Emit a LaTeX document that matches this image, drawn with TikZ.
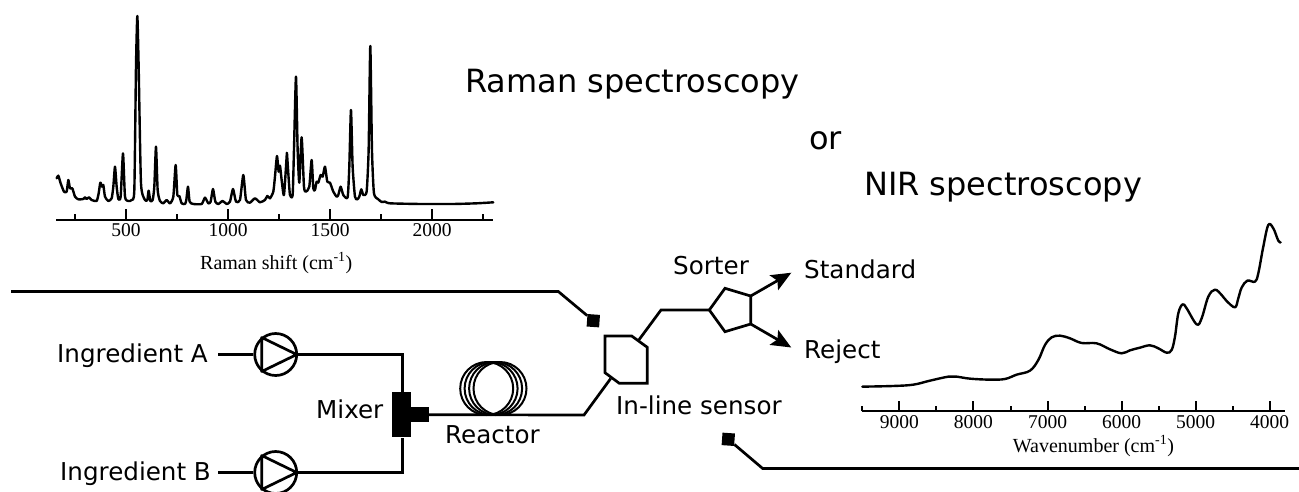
\documentclass[tikz,border=0pt]{standalone}
\usepackage{fontspec}
\setmainfont{DejaVu Sans}
\newfontfamily\serifax{Liberation Serif}
\usetikzlibrary{arrows.meta}
\tikzset{
  lab/.style={anchor=base west,inner sep=0pt,font=\fontsize{24.6}{28}\selectfont},
  title/.style={anchor=base west,inner sep=0pt,font=\fontsize{32}{36}\selectfont},
  axnum/.style={anchor=base,inner sep=0pt,font=\serifax\fontsize{19.5}{22}\selectfont},
  axlab/.style={anchor=base west,inner sep=0pt,font=\serifax\fontsize{20}{24}\selectfont},
  pipe/.style={line width=2.7pt,line join=miter},
  spec/.style={line width=2.4pt,line join=round,line cap=round},
  axisline/.style={line width=2pt},
  tickm/.style={line width=1.7pt},
  pumpc/.style={circle,draw,line width=2.7pt,minimum size=42pt,inner sep=0pt},
  probe/.style={rectangle,fill=black,minimum size=12.5pt,inner sep=0pt,rotate=-4},
  coil/.style={circle,draw,line width=2pt,minimum size=53pt,inner sep=0pt},
  blk/.style={rectangle,fill=black,inner sep=0pt},
  arr/.style={line width=2.7pt,-{Stealth[length=20pt,width=17pt,inset=4pt]}},
}
\begin{document}
\begin{tikzpicture}[x=1pt,y=-1pt]
\useasboundingbox (0,0) rectangle (1299,491);
\clip (0,0) rectangle (1299,491);
% Raman spectrum
\begin{scope}[shift={(40,0)},x=0.3333pt,y=-0.3333pt]
\draw[spec] plot[smooth,tension=0.35] coordinates {
(50,535)(55,527)(62,550)(72,575)(80,575)(85,540)(90,565)(97,565)(105,590)(115,598)(130,597)(135,592)(140,597)(147,592)(155,600)(170,603)(176,580)(181,548)(186,560)(190,555)(195,590)(205,603)(215,595)(220,560)(225,500)(230,560)(235,597)(242,590)(249,460)(255,590)(265,603)(275,600)(283,570)(288,200)(292,48)(296,200)(303,550)(315,600)(322,600)(326,572)(331,603)(338,600)(343,560)(348,440)(353,570)(360,603)(370,610)(380,600)(390,610)(400,590)(407,495)(412,585)(418,588)(425,610)(435,612)(439,600)(444,560)(449,605)(460,612)(485,612)(495,593)(505,610)(512,605)(519,567)(526,605)(535,612)(548,603)(560,612)(570,605)(579,567)(588,605)(600,600)(610,525)(618,600)(630,608)(645,595)(660,607)(675,600)(682,588)(690,595)(700,575)(705,530)(711,468)(716,515)(720,497)(725,540)(732,585)(740,470)(741,460)(745,520)(750,585)(758,585)(762,450)(768,230)(773,450)(778,548)(785,412)(792,560)(798,575)(808,560)(815,480)(820,565)(825,570)(830,545)(835,548)(842,525)(848,530)(855,500)(862,545)(870,548)(880,575)(890,590)(895,585)(902,560)(910,585)(923,592)(928,500)(933,330)(938,500)(945,590)(952,598)(958,590)(964,568)(970,585)(980,575)(986,450)(991,138)(996,450)(1002,580)(1015,598)(1025,606)(1035,605)(1050,610)(1140,612)(1240,612)(1310,610)(1360,607)};
\end{scope}
\coordinate (ramL) at (56,219.5);
\coordinate (ramR) at (493,219.5);
\draw[axisline] (ramL) -- (ramR);
\foreach \x/\t in {126/500,228/1000,330/1500,432/2000}{
  \draw[tickm] (\x,219.5) -- (\x,208.5);
  \node[axnum] (ram\t) at (\x,236.7) {\t};
}
\foreach \x in {75,177,279,381,483}{
  \draw[tickm] (\x,219.5) -- (\x,213.5);
}
\node[axlab] (ramlabel) at (200,269.5) {Raman shift (cm\textsuperscript{-1})};
% Titles
\node[title] (tRaman) at (465,92) {Raman spectroscopy};
\node[title] (tOr) at (809,149) {or};
\node[title] (tNir) at (864,195) {NIR spectroscopy};
% NIR spectrum
\begin{scope}[shift={(850,210)},x=0.3333pt,y=-0.3333pt]
\draw[spec] plot[smooth,tension=0.6] coordinates {
(37,530)(130,528)(190,524)(240,512)(295,500)(320,500)(360,506)(420,509)(465,507)(500,494)(540,482)(565,450)(585,405)(605,382)(630,377)(660,385)(695,399)(740,400)(780,418)(815,430)(840,421)(870,413)(900,406)(925,415)(950,428)(965,420)(975,380)(985,310)(998,283)(1010,295)(1040,343)(1055,325)(1075,260)(1095,239)(1115,255)(1130,273)(1155,292)(1165,265)(1175,233)(1192,212)(1215,215)(1225,190)(1240,110)(1255,45)(1270,55)(1285,92)(1292,97)};
\end{scope}
\coordinate (nirL) at (862,411.3);
\coordinate (nirR) at (1285,411.3);
\draw[axisline] (nirL) -- (nirR);
\foreach \x/\t in {899.3/9000,973.3/8000,1047.7/7000,1121.7/6000,1195.7/5000,1269.7/4000}{
  \draw[tickm] (\x,411.3) -- (\x,401);
  \node[axnum] (nir\t) at (\x,428.3) {\t};
}
\foreach \x in {862.3,936.3,1010.7,1084.7,1158.7,1233}{
  \draw[tickm] (\x,411.3) -- (\x,405.7);
}
\node[axlab] (nirlabel) at (1012.7,452) {Wavenumber (cm\textsuperscript{-1})};
% Labels
\node[lab] (lA) at (57,362) {Ingredient A};
\node[lab] (lB) at (60,480) {Ingredient B};
\node[lab] (lMixer) at (316,418) {Mixer};
\node[lab] (lReactor) at (445,443) {Reactor};
\node[lab] (lSorter) at (673,274) {Sorter};
\node[lab] (lStd) at (804,278.5) {Standard};
\node[lab] (lRej) at (804,358) {Reject};
\node[lab] (lSensor) at (616,414) {In-line sensor};
% Pumps
\node[pumpc] (pA) at (275.7,354.5) {};
\node[pumpc] (pB) at (275.7,472.5) {};
\foreach \p in {pA,pB}{
  \draw[pipe,line join=round] ([shift={(-14,-17)}]\p.center) -- ([shift={(21,0)}]\p.center) -- ([shift={(-14,17)}]\p.center) -- cycle;
}
\coordinate (inA) at (218.3,354.5);
\coordinate (inB) at (218.3,472.5);
\draw[pipe] (inA) -- (pA.west);
\draw[pipe] (inB) -- (pB.west);
% Mixer
\node[blk,minimum width=18.7pt,minimum height=45.6pt] (mix) at (401.4,414.5) {};
\node[blk,minimum width=19pt,minimum height=15.3pt] (mixout) at (419.5,414.7) {};
\coordinate (mA) at (402.7,354.5);
\coordinate (mB) at (402.7,472.5);
\draw[pipe] (pA.east) -- (mA) -- (mix.north -| mA);
\draw[pipe] (pB.east) -- (mB) -- (mix.south -| mB);
% Reactor coil
\foreach \n/\x in {c1/486.7,c2/491.1,c3/495.6,c4/500}{
  \node[coil] (\n) at (\x,388.5) {};
}
% Sensor
\coordinate (s1) at (605,336);
\coordinate (s2) at (631.7,336);
\coordinate (s3) at (647.3,347.3);
\coordinate (s4) at (647.3,383.3);
\coordinate (s5) at (619.3,383.3);
\coordinate (s6) at (605,372.7);
\draw[pipe] (s1) -- (s2) -- (s3) -- (s4) -- (s5) -- (s6) -- cycle;
\coordinate (sIn) at (610.7,378.5);
\coordinate (sOut) at (638.3,340.7);
\coordinate (bendIn) at (584,415);
\coordinate (bendOut) at (661,310);
\draw[pipe] (mixout.east) -- (bendIn) -- (sIn);
% Sorter
\coordinate (t1) at (709.3,310);
\coordinate (t2) at (725,288.3);
\coordinate (t3) at (750.7,296);
\coordinate (t4) at (750.7,324);
\coordinate (t5) at (725,331.7);
\draw[pipe] (t1) -- (t2) -- (t3) -- (t4) -- (t5) -- cycle;
\draw[pipe] (sOut) -- (bendOut) -- (t1);
\coordinate (endStd) at (791.3,272.7);
\coordinate (endRej) at (791.3,347.5);
\draw[arr] (t3) -- (endStd);
\draw[arr] (t4) -- (endRej);
% Probes
\node[probe] (pr1) at (593.3,320.7) {};
\node[probe] (pr2) at (728.3,439.3) {};
\coordinate (f1) at (11,291.5);
\coordinate (b1) at (558.3,291.5);
\draw[pipe] (f1) -- (b1) -- (pr1);
\coordinate (f2) at (1299,468.5);
\coordinate (b2) at (762.7,468.5);
\draw[pipe] (f2) -- (b2) -- (pr2);
\end{tikzpicture}
\end{document}
